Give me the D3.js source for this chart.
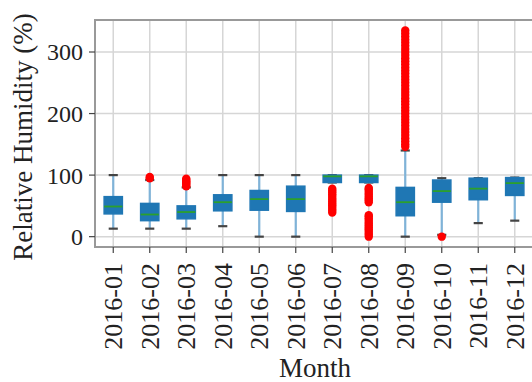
<!DOCTYPE html>
<html>
<head>
<meta charset="utf-8">
<script src="https://cdn.jsdelivr.net/npm/d3@7"></script>
<style>
  body { margin: 0; background: #fff; }
</style>
</head>
<body>
<script>
const width = 532;
const height = 382;
const serif = "'Liberation Serif', 'DejaVu Serif', 'Times New Roman', Times, serif";

const months = ["2016-01", "2016-02", "2016-03", "2016-04", "2016-05", "2016-06",
                "2016-07", "2016-08", "2016-09", "2016-10", "2016-11", "2016-12"];

// box stats: lower whisker, q1, median, q3, upper whisker
const whiskLo = [13, 13, 13, 17, 0, 0, 88, 88, 0, 3, 22, 26];
const q1      = [37, 26, 29, 42, 43, 41, 88, 88, 34, 56, 60, 67];
const median  = [49, 36, 40, 56, 61, 61, 98, 98, 56, 74, 78, 87];
const q3      = [65, 54, 50, 68, 75, 82, 100, 100, 80, 92, 95, 96];
const whiskHi = [100, 92, 80, 100, 100, 100, 100, 100, 140, 95, 95, 96];

// outliers per month
const fliers = [
  [],
  [95, 97],
  [82, 84, 86, 88, 90, 92, 94],
  [],
  [],
  [],
  [39, 42, 45, 48, 51, 54, 57, 60, 63, 66, 69, 72, 75, 78],
  [0, 3, 6, 9, 12, 15, 18, 21, 24, 27, 30, 33, 35, 56, 59, 62, 65, 68, 71, 74, 77, 79],
  [146, 150, 155, 160, 165, 170, 175, 180, 185, 190, 195, 200, 205, 210, 215, 220, 225,
   230, 235, 240, 245, 250, 255, 260, 265, 270, 275, 280, 285, 290, 295, 300, 305, 310,
   315, 320, 325, 330, 335],
  [0],
  [],
  []
];

const yTicks = [0, 100, 200, 300];

const margin = {top: 20, left: 95, bottom: 135, right: -1};
const x = d3.scaleLinear().domain([0.5, 12.5]).range([margin.left, width - margin.right]);
const y = d3.scaleLinear().domain([-16.8, 352]).range([height - margin.bottom, margin.top]);

const svg = d3.select("body").append("svg")
    .attr("width", width)
    .attr("height", height);

const data = months.map((m, i) => ({
  month: m, pos: i + 1,
  lo: whiskLo[i], q1: q1[i], med: median[i], q3: q3[i], hi: whiskHi[i],
  fliers: fliers[i]
}));

// grid
const grid = svg.append("g").attr("stroke", "#d6d6d6").attr("stroke-width", 1.5);
grid.selectAll("line.gx")
    .data(data)
    .enter().append("line")
    .attr("x1", d => x(d.pos)).attr("x2", d => x(d.pos))
    .attr("y1", y.range()[1]).attr("y2", y.range()[0]);
grid.selectAll("line.gy")
    .data(yTicks)
    .enter().append("line")
    .attr("x1", x.range()[0]).attr("x2", x.range()[1])
    .attr("y1", d => y(d)).attr("y2", d => y(d));

const half = 0.25;   // box half width in x units
const capHalf = 0.125;

const boxes = svg.append("g").selectAll("g")
    .data(data)
    .enter().append("g");

// whiskers
boxes.append("line")
    .attr("x1", d => x(d.pos)).attr("x2", d => x(d.pos))
    .attr("y1", d => y(d.lo)).attr("y2", d => y(d.q1))
    .attr("stroke", "#7fb3d8").attr("stroke-width", 2.2);
boxes.append("line")
    .attr("x1", d => x(d.pos)).attr("x2", d => x(d.pos))
    .attr("y1", d => y(d.q3)).attr("y2", d => y(d.hi))
    .attr("stroke", "#7fb3d8").attr("stroke-width", 2.2);

// caps
boxes.selectAll("line.cap")
    .data(d => [{p: d.pos, v: d.lo}, {p: d.pos, v: d.hi}])
    .enter().append("line")
    .attr("class", "cap")
    .attr("x1", d => x(d.p - capHalf)).attr("x2", d => x(d.p + capHalf))
    .attr("y1", d => y(d.v)).attr("y2", d => y(d.v))
    .attr("stroke", "#444").attr("stroke-width", 2.2);

// box
boxes.append("rect")
    .attr("x", d => x(d.pos - half))
    .attr("width", d => x(d.pos + half) - x(d.pos - half))
    .attr("y", d => y(d.q3))
    .attr("height", d => y(d.q1) - y(d.q3))
    .attr("fill", "#1f77b4")
    .attr("stroke", "#1f77b4").attr("stroke-width", 1.5);

// median
boxes.append("line")
    .attr("x1", d => x(d.pos - half)).attr("x2", d => x(d.pos + half))
    .attr("y1", d => y(d.med)).attr("y2", d => y(d.med))
    .attr("stroke", "#2ca02c").attr("stroke-width", 1.8);

// fliers
boxes.selectAll("circle")
    .data(d => d.fliers.map(v => ({p: d.pos, v})))
    .enter().append("circle")
    .attr("cx", d => x(d.p)).attr("cy", d => y(d.v))
    .attr("r", 4.2)
    .attr("fill", "#ff0000");

// spines
const spines = svg.append("g").attr("stroke", "#999").attr("stroke-width", 2).attr("fill", "none");
spines.append("rect")
    .attr("x", x.range()[0]).attr("y", y.range()[1])
    .attr("width", x.range()[1] - x.range()[0])
    .attr("height", y.range()[0] - y.range()[1]);

// y axis ticks
svg.append("g").selectAll("line")
    .data(yTicks)
    .enter().append("line")
    .attr("x1", x.range()[0] - 6).attr("x2", x.range()[0])
    .attr("y1", d => y(d)).attr("y2", d => y(d))
    .attr("stroke", "#444").attr("stroke-width", 1.2);
svg.append("g").selectAll("text")
    .data(yTicks)
    .enter().append("text")
    .attr("x", 83).attr("y", d => y(d))
    .attr("dy", "0.35em")
    .attr("text-anchor", "end")
    .attr("font-family", serif)
    .attr("font-size", 24)
    .attr("fill", "#222")
    .text(d => d);

// x axis ticks
svg.append("g").selectAll("line")
    .data(data)
    .enter().append("line")
    .attr("x1", d => x(d.pos)).attr("x2", d => x(d.pos))
    .attr("y1", y.range()[0]).attr("y2", y.range()[0] + 6)
    .attr("stroke", "#444").attr("stroke-width", 1.2);
svg.append("g").selectAll("text")
    .data(data)
    .enter().append("text")
    .attr("transform", d => `translate(${x(d.pos)},263) rotate(-90)`)
    .attr("dy", "0.35em")
    .attr("text-anchor", "end")
    .attr("font-family", serif)
    .attr("font-size", 26)
    .attr("fill", "#222")
    .text(d => d.month);

// axis labels
svg.append("text")
    .attr("x", 315).attr("y", 377)
    .attr("text-anchor", "middle")
    .attr("font-family", serif)
    .attr("font-size", 27)
    .attr("fill", "#222")
    .text("Month");

svg.append("text")
    .attr("transform", "translate(32,137) rotate(-90)")
    .attr("text-anchor", "middle")
    .attr("font-family", serif)
    .attr("font-size", 27)
    .attr("fill", "#222")
    .text("Relative Humidity (%)");
</script>
</body>
</html>
